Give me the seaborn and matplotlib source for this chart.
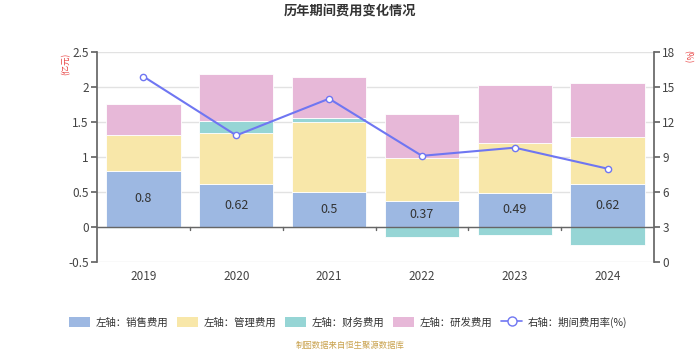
import matplotlib
matplotlib.use("Agg")
import matplotlib.pyplot as plt
import seaborn as sns
import numpy as np
import pandas as pd
from matplotlib.patches import Patch
from matplotlib.lines import Line2D

years = ["2019", "2020", "2021", "2022", "2023", "2024"]
sales = [0.80, 0.62, 0.50, 0.37, 0.49, 0.62]
mgmt = [0.52, 0.73, 1.00, 0.61, 0.715, 0.66]
finance = [-0.02, 0.16, 0.06, -0.14, -0.12, -0.25]
rnd = [0.44, 0.68, 0.58, 0.63, 0.82, 0.78]
rate = [15.9, 10.85, 14.0, 9.1, 9.8, 8.0]
sales_labels = ["0.8", "0.62", "0.5", "0.37", "0.49", "0.62"]

c_sales = "#9db8e2"
c_mgmt = "#f8e7a9"
c_fin = "#96d5d5"
c_rnd = "#e7b8d8"
c_line = "#6f76f2"

sns.set_theme(style="white")
plt.rcParams["font.family"] = ["Noto Sans CJK SC", "DejaVu Sans"]
plt.rcParams["axes.unicode_minus"] = False

fig = plt.figure(figsize=(7, 3.5), dpi=100)
ax = fig.add_axes([97/700, 1-262/350, (654-97)/700, 210/350])

# stacking (positive and negative separately)
pos = np.zeros(len(years))
neg = np.zeros(len(years))
series = [(sales, c_sales), (mgmt, c_mgmt), (finance, c_fin), (rnd, c_rnd)]
for vals, col in series:
    vals = np.array(vals, dtype=float)
    bottom = np.where(vals >= 0, pos, neg)
    df = pd.DataFrame({"year": years, "v": vals})
    sns.barplot(data=df, x="year", y="v", order=years, color=col, saturation=1,
                width=0.8, bottom=bottom, edgecolor="#ffffff", linewidth=0.6,
                errorbar=None, ax=ax, zorder=2)
    pos = np.where(vals >= 0, pos + vals, pos)
    neg = np.where(vals < 0, neg + vals, neg)

for i, (v, lab) in enumerate(zip(sales, sales_labels)):
    ax.text(i, v/2, lab, ha="center", va="center", fontsize=9, color="#333333", zorder=5)

ax.set_xlim(-0.5, 5.5)
ax.set_ylim(-0.5, 2.5)
ax.set_yticks([-0.5, 0, 0.5, 1, 1.5, 2, 2.5])
ax.set_yticklabels(["-0.5", "0", "0.5", "1", "1.5", "2", "2.5"])
ax.set_xlabel("")
ax.set_ylabel("")
ax.grid(axis="y", color="#e2e2e2", linewidth=1, zorder=0)
ax.set_axisbelow(True)
for s in ["top", "right", "bottom"]:
    ax.spines[s].set_visible(False)
ax.spines["left"].set_color("#666666")
ax.axhline(0, color="#666666", linewidth=1, zorder=3)
ax.tick_params(axis="y", length=4, color="#666666", labelsize=8.5, labelcolor="#444444", left=True, pad=2)
ax.tick_params(axis="x", length=0, labelsize=8.5, labelcolor="#444444", pad=6)
for b in np.arange(0.5, 5.0, 1.0):
    ax.plot([b, b], [0, -0.04], color="#666666", linewidth=1, zorder=3, clip_on=False)

ax2 = ax.twinx()
ldf = pd.DataFrame({"x": np.arange(len(years)), "rate": rate})
sns.lineplot(data=ldf, x="x", y="rate", ax=ax2, color=c_line, linewidth=1.5,
             marker="o", markersize=4.5, markerfacecolor="white",
             markeredgecolor=c_line, markeredgewidth=1, zorder=6)
ax2.set_ylim(0, 18)
ax2.set_yticks([0, 3, 6, 9, 12, 15, 18])
ax2.set_xlim(-0.5, 5.5)
ax2.set_ylabel("")
ax2.set_xlabel("")
for s in ["top", "left", "bottom"]:
    ax2.spines[s].set_visible(False)
ax2.spines["right"].set_color("#666666")
ax2.tick_params(axis="y", length=4, color="#666666", labelsize=8.5, labelcolor="#444444", right=True, pad=2)

fig.text(0.5, 0.968, "历年期间费用变化情况", ha="center", va="center", fontsize=9.5,
         fontweight="bold", color="#333333")
fig.text(66/700, 1-64/350, "(亿元)", rotation=90, ha="center", va="center", fontsize=6, color="#e84040")
fig.text(688/700, 1-57/350, "(%)", rotation=-90, ha="center", va="center", fontsize=6, color="#e84040")
fig.text(0.5, 1-345/350, "制图数据来自恒生聚源数据库", ha="center", va="center", fontsize=6, color="#c9a24e")

handles = [
    Patch(facecolor=c_sales, edgecolor="none", label="左轴：销售费用"),
    Patch(facecolor=c_mgmt, edgecolor="none", label="左轴：管理费用"),
    Patch(facecolor=c_fin, edgecolor="none", label="左轴：财务费用"),
    Patch(facecolor=c_rnd, edgecolor="none", label="左轴：研发费用"),
    Line2D([0], [0], color=c_line, linewidth=1.2, marker="o", markersize=6.5,
           markerfacecolor="white", markeredgecolor=c_line, label="右轴：期间费用率(%)"),
]
fig.legend(handles=handles, loc="center", bbox_to_anchor=(348/700, 1-322/350), ncol=5,
           frameon=False, fontsize=7.5, handlelength=2.0, handleheight=1.15,
           columnspacing=0.9, handletextpad=0.5, labelcolor="#333333")

fig.savefig("out.png", dpi=100)
